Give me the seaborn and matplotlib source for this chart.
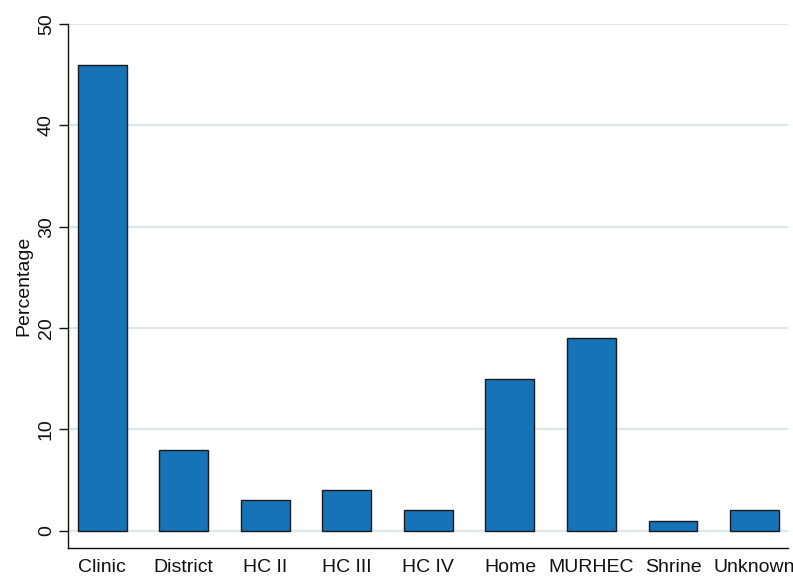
import matplotlib
matplotlib.use("Agg")
import matplotlib.pyplot as plt
import pandas as pd
import seaborn as sns

BLUE = "#1673b8"
GRID = "#dde7e8"
INK = "#111111"

places = ["Clinic", "District", "HC II", "HC III", "HC IV",
          "Home", "MURHEC", "Shrine", "Unknown"]
percentage = [46, 8, 3, 4, 2, 15, 19, 1, 2]

df = pd.DataFrame({"place": places, "pct": percentage})

sns.set_style("white")
plt.rcParams["font.family"] = ["Liberation Sans", "DejaVu Sans"]
plt.rcParams["text.color"] = INK
plt.rcParams["axes.labelcolor"] = INK
plt.rcParams["xtick.labelcolor"] = INK
plt.rcParams["ytick.labelcolor"] = INK

fig = plt.figure(figsize=(7.93, 5.78), dpi=100)
ax = fig.add_axes([68 / 793, 30 / 578, 720 / 793, 524 / 578])

ax.set_axisbelow(True)
for yv in range(0, 51, 10):
    ax.axhline(yv, color=GRID, linewidth=1.6, zorder=0)

sns.barplot(data=df, x="place", y="pct", color=BLUE, saturation=1,
            width=0.6, edgecolor="#1a1a1a", linewidth=1.0, ax=ax)

ax.set_xlim(-0.42, 8.41)
ax.set_ylim(-1.7, 50)
ax.set_yticks(range(0, 51, 10))
ax.set_xlabel("")
ax.set_ylabel("Percentage", fontsize=14, labelpad=4)

ax.tick_params(axis="y", labelsize=14, length=6.5, width=1, color=INK,
               labelrotation=90, pad=3, left=True)
ax.tick_params(axis="x", labelsize=14, length=0, pad=8)
for lbl in ax.get_yticklabels():
    lbl.set_va("center")

sns.despine(ax=ax)
for side in ("left", "bottom"):
    ax.spines[side].set_color(INK)
    ax.spines[side].set_linewidth(1.0)

fig.savefig("out.png", dpi=100)
